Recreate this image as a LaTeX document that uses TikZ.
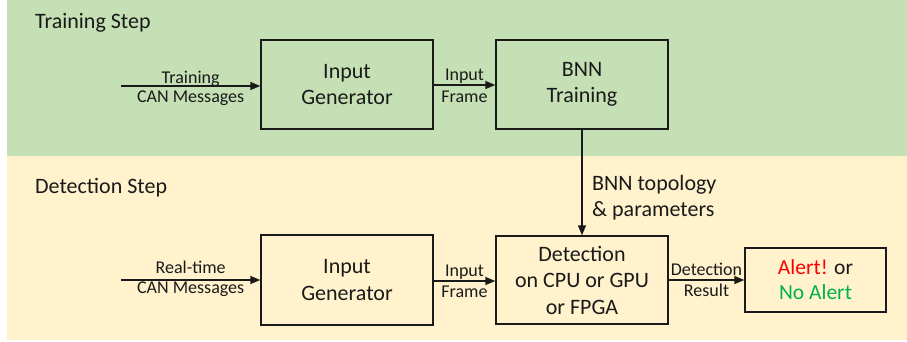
\documentclass[tikz,border=0pt]{standalone}
\usepackage{fontspec}
\setmainfont{Carlito}
\usetikzlibrary{arrows.meta}
\definecolor{trainbg}{HTML}{C5E0B4}
\definecolor{detectbg}{HTML}{FFF2CC}
\definecolor{ink}{HTML}{1A1A1A}
\definecolor{alertred}{HTML}{FF0000}
\definecolor{okgreen}{HTML}{00B050}
\begin{document}
\begin{tikzpicture}[x=1pt,y=-1pt,
  block/.style={draw=ink, line width=1.4pt, minimum width=172pt, minimum height=89pt,
    align=center, font=\fontsize{22}{26.5}\selectfont, text=ink, inner sep=0pt},
  flow/.style={draw=ink, line width=1.4pt, -{Triangle[length=10pt,width=8pt]}},
  lab/.style={font=\fontsize{18}{21}\selectfont, text=ink, anchor=base, inner sep=0pt},
  steptitle/.style={font=\fontsize{22}{26}\selectfont, text=ink, anchor=base west, inner sep=0pt}]
\useasboundingbox (0,0) rectangle (907,341);

% background bands
\fill[trainbg] (6.5,0) rectangle (907,156);
\fill[detectbg] (6.5,156) rectangle (907,339.5);

\node[steptitle] (ttitle) at (35,28) {Training Step};
\node[steptitle] (dtitle) at (35,193) {Detection Step};

% training row
\node[block] (tig) at (347,84.5) {Input\\Generator};
\node[block] (bnn) at (582,84.5) {BNN\\Training};
\coordinate (tin) at (121,86);

% detection row
\node[block, minimum height=90pt] (dig) at (347,280) {Input\\Generator};
\node[block, minimum height=88pt] (det) at (582,280) {Detection\\on CPU or GPU\\or FPGA};
\node[block, minimum width=141pt, minimum height=64pt, font=\fontsize{21.5}{25}\selectfont]
  (alert) at (815.5,280) {\textcolor{alertred}{Alert!} or\\\textcolor{okgreen}{No Alert}};
\coordinate (din) at (121,280);

% connectors
\draw[flow] (tin) -- (tig.west |- tin)
  node[lab, midway, yshift=3pt] {Training}
  node[lab, midway, yshift=-16pt] {CAN Messages};
\draw[flow] (tig.east |- 0,85) -- (bnn.west |- 0,85)
  node[lab, midway, yshift=5pt] {Input}
  node[lab, midway, yshift=-17pt] {Frame};
\draw[flow] (din) -- (dig.west |- din)
  node[lab, midway, yshift=7pt] {Real-time}
  node[lab, midway, yshift=-13pt] {CAN Messages};
\draw[flow] (dig.east |- 0,281) -- (det.west |- 0,281)
  node[lab, midway, yshift=5pt] {Input}
  node[lab, midway, yshift=-16pt] {Frame};
\draw[flow] (det.east) -- (alert.west)
  node[lab, midway, yshift=5pt] {Detection}
  node[lab, midway, yshift=-16pt] {Result};
\draw[flow] (bnn.south) -- (det.north);
\node[font=\fontsize{22}{26}\selectfont, text=ink, anchor=base west, align=left, inner sep=0pt]
  (param) at (592,216) {BNN topology\\\& parameters};
\end{tikzpicture}
\end{document}
